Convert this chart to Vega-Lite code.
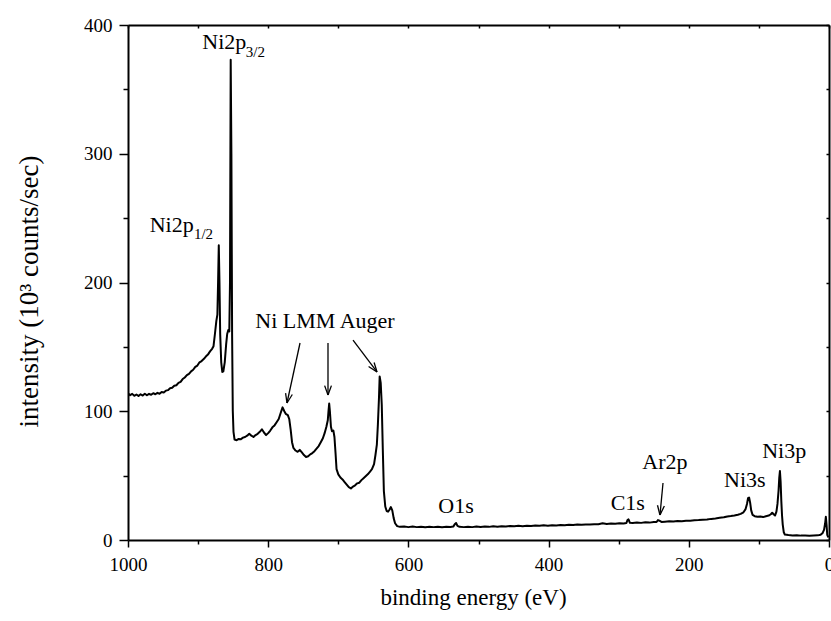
{
  "$schema": "https://vega.github.io/schema/vega-lite/v6.json",
  "width": 701,
  "height": 515,
  "autosize": "none",
  "padding": {"left": 128, "top": 25, "right": 2, "bottom": 81},
  "background": "white",
  "config": {
    "view": {"stroke": null},
    "font": "Liberation Serif",
    "axis": {"grid": false, "domainColor": "black", "domainWidth": 2, "tickColor": "black", "tickWidth": 1.5, "labelColor": "black", "titleColor": "black", "labelFont": "Liberation Serif", "titleFont": "Liberation Serif", "labelFontSize": 19, "titleFontSize": 23, "titleFontWeight": "normal"}
  },
  "datasets": {
    "spectrum": [
      {"E": 1000, "I": 114}, {"E": 997, "I": 112.5}, {"E": 994, "I": 113.5}, {"E": 991, "I": 112}, {"E": 988, "I": 113}, {"E": 985, "I": 111.8},
      {"E": 982, "I": 113.2}, {"E": 979, "I": 112.2}, {"E": 976, "I": 113.6}, {"E": 973, "I": 112.4}, {"E": 970, "I": 113.5}, {"E": 967, "I": 112.8},
      {"E": 964, "I": 114}, {"E": 961, "I": 113.2}, {"E": 958, "I": 114.3}, {"E": 955, "I": 113.6}, {"E": 952, "I": 115}, {"E": 949, "I": 114.6},
      {"E": 946, "I": 116}, {"E": 943, "I": 116.4}, {"E": 940, "I": 117.8}, {"E": 937, "I": 118.2}, {"E": 934, "I": 119.8}, {"E": 931, "I": 120.2},
      {"E": 928, "I": 122}, {"E": 925, "I": 122.8}, {"E": 922, "I": 125}, {"E": 919, "I": 126.2}, {"E": 916, "I": 128}, {"E": 913, "I": 129},
      {"E": 910, "I": 131}, {"E": 907, "I": 132.2}, {"E": 904, "I": 134.5}, {"E": 901, "I": 135.5}, {"E": 898, "I": 138}, {"E": 895, "I": 139},
      {"E": 892, "I": 140.5}, {"E": 889, "I": 142.5}, {"E": 886, "I": 144}, {"E": 883, "I": 146.5}, {"E": 880, "I": 148.5}, {"E": 878, "I": 150.5},
      {"E": 876, "I": 160}, {"E": 874, "I": 170}, {"E": 872.5, "I": 175}, {"E": 871.5, "I": 200}, {"E": 870.5, "I": 229}, {"E": 869.5, "I": 200},
      {"E": 868.5, "I": 160}, {"E": 867, "I": 138}, {"E": 865.5, "I": 130.5}, {"E": 864, "I": 131}, {"E": 862, "I": 138}, {"E": 860, "I": 152},
      {"E": 858.5, "I": 160}, {"E": 857, "I": 163}, {"E": 855.5, "I": 162}, {"E": 854.5, "I": 200}, {"E": 853.5, "I": 373}, {"E": 852.5, "I": 300},
      {"E": 851.5, "I": 160}, {"E": 850.5, "I": 100}, {"E": 849.5, "I": 84}, {"E": 848, "I": 78}, {"E": 845, "I": 77.5}, {"E": 842, "I": 78.5},
      {"E": 839, "I": 78.2}, {"E": 836, "I": 79.5}, {"E": 833, "I": 80}, {"E": 830, "I": 81}, {"E": 827, "I": 82.5}, {"E": 824, "I": 81},
      {"E": 821, "I": 80}, {"E": 818, "I": 81.5}, {"E": 815, "I": 82.5}, {"E": 812, "I": 84}, {"E": 809, "I": 86}, {"E": 806, "I": 83.5},
      {"E": 803, "I": 81.5}, {"E": 800, "I": 83}, {"E": 797, "I": 85}, {"E": 794, "I": 87.5}, {"E": 791, "I": 89}, {"E": 788, "I": 91.5},
      {"E": 785, "I": 94}, {"E": 782, "I": 99}, {"E": 779.5, "I": 103}, {"E": 777, "I": 100}, {"E": 775, "I": 98}, {"E": 772, "I": 97},
      {"E": 770, "I": 94}, {"E": 768, "I": 86}, {"E": 766, "I": 76}, {"E": 764, "I": 71.5}, {"E": 761, "I": 69.5}, {"E": 758, "I": 68.5},
      {"E": 755, "I": 70}, {"E": 752, "I": 68}, {"E": 749, "I": 66}, {"E": 746, "I": 64.5}, {"E": 743, "I": 65}, {"E": 740, "I": 66.5},
      {"E": 737, "I": 67.5}, {"E": 734, "I": 69}, {"E": 731, "I": 71}, {"E": 728, "I": 73}, {"E": 725, "I": 76}, {"E": 722, "I": 79},
      {"E": 719.5, "I": 83}, {"E": 717, "I": 88}, {"E": 715, "I": 93}, {"E": 714, "I": 100}, {"E": 713, "I": 106}, {"E": 712, "I": 100},
      {"E": 710.5, "I": 88}, {"E": 709, "I": 84.5}, {"E": 707, "I": 85}, {"E": 705.5, "I": 80}, {"E": 704, "I": 68}, {"E": 702.5, "I": 55},
      {"E": 700, "I": 51}, {"E": 697, "I": 48.5}, {"E": 694, "I": 47}, {"E": 691, "I": 45}, {"E": 688, "I": 43}, {"E": 685, "I": 41},
      {"E": 682, "I": 40}, {"E": 679, "I": 41.5}, {"E": 676, "I": 42.5}, {"E": 673, "I": 44}, {"E": 670, "I": 44.5}, {"E": 667, "I": 46.5},
      {"E": 664, "I": 48}, {"E": 661, "I": 49.5}, {"E": 658, "I": 51}, {"E": 655, "I": 53}, {"E": 652, "I": 55}, {"E": 649, "I": 59},
      {"E": 647, "I": 66}, {"E": 645, "I": 74}, {"E": 643.5, "I": 90}, {"E": 642, "I": 110}, {"E": 641, "I": 127}, {"E": 639.5, "I": 122},
      {"E": 638, "I": 105}, {"E": 636.5, "I": 70}, {"E": 635, "I": 38}, {"E": 633, "I": 26}, {"E": 631, "I": 22.5}, {"E": 629, "I": 22},
      {"E": 627, "I": 23.5}, {"E": 625, "I": 25.6}, {"E": 623, "I": 23}, {"E": 621, "I": 17}, {"E": 619, "I": 13}, {"E": 616, "I": 10.8},
      {"E": 612, "I": 10.2}, {"E": 606, "I": 10.4}, {"E": 600, "I": 10}, {"E": 594, "I": 10.4}, {"E": 588, "I": 10}, {"E": 582, "I": 10.3},
      {"E": 576, "I": 9.9}, {"E": 570, "I": 10.2}, {"E": 564, "I": 10}, {"E": 558, "I": 10.3}, {"E": 552, "I": 9.9}, {"E": 546, "I": 10.2},
      {"E": 540, "I": 10.1}, {"E": 536, "I": 10.4}, {"E": 533.5, "I": 12.5}, {"E": 532, "I": 13.2}, {"E": 530, "I": 11}, {"E": 527, "I": 10.2},
      {"E": 521, "I": 10}, {"E": 515, "I": 10.3}, {"E": 509, "I": 10}, {"E": 503, "I": 10.4}, {"E": 497, "I": 10.1}, {"E": 491, "I": 10.4},
      {"E": 485, "I": 10.2}, {"E": 479, "I": 10.6}, {"E": 473, "I": 10.3}, {"E": 467, "I": 10.7}, {"E": 461, "I": 10.4}, {"E": 455, "I": 10.8},
      {"E": 449, "I": 10.6}, {"E": 443, "I": 11}, {"E": 437, "I": 10.7}, {"E": 431, "I": 11.1}, {"E": 425, "I": 10.9}, {"E": 419, "I": 11.2},
      {"E": 413, "I": 11}, {"E": 407, "I": 11.4}, {"E": 401, "I": 11.1}, {"E": 395, "I": 11.5}, {"E": 389, "I": 11.3}, {"E": 383, "I": 11.6},
      {"E": 377, "I": 11.4}, {"E": 371, "I": 11.8}, {"E": 365, "I": 11.6}, {"E": 359, "I": 12}, {"E": 353, "I": 11.8}, {"E": 347, "I": 12.1},
      {"E": 341, "I": 12}, {"E": 335, "I": 12.3}, {"E": 329, "I": 12.2}, {"E": 323, "I": 13}, {"E": 317, "I": 12.5}, {"E": 311, "I": 12.8},
      {"E": 305, "I": 12.6}, {"E": 299, "I": 13}, {"E": 293, "I": 12.8}, {"E": 289, "I": 13.2}, {"E": 287.5, "I": 15.5}, {"E": 286, "I": 16},
      {"E": 284, "I": 13.3}, {"E": 280, "I": 13.2}, {"E": 274, "I": 13.5}, {"E": 268, "I": 13.3}, {"E": 262, "I": 13.7}, {"E": 256, "I": 13.5},
      {"E": 250, "I": 13.9}, {"E": 246, "I": 14}, {"E": 244, "I": 15.5}, {"E": 242, "I": 15}, {"E": 239, "I": 14}, {"E": 234, "I": 14.2},
      {"E": 228, "I": 14.5}, {"E": 222, "I": 14.3}, {"E": 216, "I": 14.8}, {"E": 210, "I": 14.6}, {"E": 204, "I": 15}, {"E": 198, "I": 14.9},
      {"E": 192, "I": 15.3}, {"E": 186, "I": 15.5}, {"E": 180, "I": 15.8}, {"E": 174, "I": 15.9}, {"E": 168, "I": 16.4}, {"E": 162, "I": 16.7},
      {"E": 156, "I": 17.2}, {"E": 150, "I": 17.6}, {"E": 145, "I": 18.3}, {"E": 140, "I": 18.6}, {"E": 135, "I": 19}, {"E": 130, "I": 19.6},
      {"E": 126, "I": 20.3}, {"E": 122, "I": 21.5}, {"E": 119, "I": 24}, {"E": 117, "I": 28}, {"E": 115.5, "I": 32.5}, {"E": 114, "I": 33},
      {"E": 112.5, "I": 29}, {"E": 111, "I": 23}, {"E": 109, "I": 19.5}, {"E": 106, "I": 18.5}, {"E": 102, "I": 18}, {"E": 98, "I": 18.3},
      {"E": 94, "I": 17.8}, {"E": 90, "I": 18.5}, {"E": 86, "I": 19}, {"E": 83, "I": 20}, {"E": 81, "I": 21.2}, {"E": 79, "I": 20},
      {"E": 77, "I": 19}, {"E": 75, "I": 22}, {"E": 73.5, "I": 28}, {"E": 72, "I": 38}, {"E": 71, "I": 48}, {"E": 70, "I": 53.5},
      {"E": 69, "I": 45}, {"E": 68, "I": 30}, {"E": 67, "I": 19}, {"E": 66, "I": 12}, {"E": 64.5, "I": 6}, {"E": 63, "I": 4.2},
      {"E": 58, "I": 3.8}, {"E": 52, "I": 3.5}, {"E": 46, "I": 3.7}, {"E": 40, "I": 3.4}, {"E": 34, "I": 3.5}, {"E": 28, "I": 3.3},
      {"E": 22, "I": 3.5}, {"E": 16, "I": 3.6}, {"E": 12, "I": 4}, {"E": 9, "I": 5.5}, {"E": 7, "I": 8}, {"E": 5.5, "I": 13},
      {"E": 4.5, "I": 18}, {"E": 3.5, "I": 12}, {"E": 2.5, "I": 4}, {"E": 1, "I": 2}
    ],
    "labels": [
      {"text": "Ni2p", "E": 894, "I": 381, "kind": "left"},
      {"text": "3/2", "E": 832, "I": 375, "kind": "sub"},
      {"text": "Ni2p", "E": 969, "I": 239, "kind": "left"},
      {"text": "1/2", "E": 906, "I": 234, "kind": "sub"},
      {"text": "Ni LMM Auger", "E": 719, "I": 165, "kind": "center"},
      {"text": "O1s", "E": 532, "I": 21, "kind": "center"},
      {"text": "C1s", "E": 287, "I": 23.3, "kind": "center"},
      {"text": "Ar2p", "E": 234, "I": 55.1, "kind": "center"},
      {"text": "Ni3s", "E": 120, "I": 41.2, "kind": "center"},
      {"text": "Ni3p", "E": 64, "I": 63.7, "kind": "center"}
    ],
    "arrows": [
      {"E": 754.6, "I": 153.0, "E2": 773.2, "I2": 106.4},
      {"E": 765.6, "I": 113.0, "E2": 773.2, "I2": 106.4},
      {"E": 775.2, "I": 114.1, "E2": 773.2, "I2": 106.4},
      {"E": 714.7, "I": 153.0, "E2": 714.7, "I2": 112.6},
      {"E": 709.8, "I": 119.9, "E2": 714.7, "I2": 112.6},
      {"E": 719.5, "I": 119.9, "E2": 714.7, "I2": 112.6},
      {"E": 679.0, "I": 155.3, "E2": 644.8, "I2": 130.5},
      {"E": 648.9, "I": 137.9, "E2": 644.8, "I2": 130.5},
      {"E": 656.8, "I": 134.8, "E2": 644.8, "I2": 130.5},
      {"E": 236.8, "I": 44.3, "E2": 241.1, "I2": 19.4},
      {"E": 234.9, "I": 26.4, "E2": 241.1, "I2": 19.4},
      {"E": 244.7, "I": 27.0, "E2": 241.1, "I2": 19.4}
    ]
  },
  "resolve": {"axis": {"x": "independent", "y": "independent"}},
  "layer": [
    {
      "data": {"name": "spectrum"},
      "mark": {"type": "line", "color": "black", "strokeWidth": 2, "strokeJoin": "round", "clip": true},
      "encoding": {
        "x": {
          "field": "E", "type": "quantitative",
          "scale": {"domain": [0, 1000], "reverse": true, "nice": false, "zero": false},
          "axis": {
            "orient": "bottom", "title": "binding energy (eV)", "format": "d",
            "values": [0, 100, 200, 300, 400, 500, 600, 700, 800, 900, 1000],
            "labelExpr": "datum.value % 200 === 0 ? datum.label : ''",
            "tickSize": {"condition": {"test": "datum.value % 200 === 0", "value": 7}, "value": 4},
            "labelPadding": 8, "titlePadding": 12, "titleX": 345, "labelFlush": false, "labelOverlap": false
          }
        },
        "y": {
          "field": "I", "type": "quantitative",
          "scale": {"domain": [0, 400], "nice": false},
          "axis": {
            "orient": "left", "title": "intensity (10³ counts/sec)", "format": "d",
            "values": [0, 50, 100, 150, 200, 250, 300, 350, 400],
            "labelExpr": "datum.value % 100 === 0 ? datum.label : ''",
            "tickSize": {"condition": {"test": "datum.value % 100 === 0", "value": 9}, "value": 5},
            "labelPadding": 7, "titlePadding": 40, "titleFontSize": 27, "titleY": 266, "labelFlush": false, "labelOverlap": false
          }
        }
      }
    },
    {
      "data": {"name": "arrows"},
      "mark": {"type": "rule", "color": "black", "strokeWidth": 1.3},
      "encoding": {
        "x": {
          "field": "E", "type": "quantitative",
          "axis": {"orient": "top", "title": null, "labels": false, "values": [0, 100, 200, 300, 400, 500, 600, 700, 800, 900, 1000], "tickSize": -3}
        },
        "y": {
          "field": "I", "type": "quantitative",
          "axis": {"orient": "right", "title": null, "labels": false, "values": [0, 50, 100, 150, 200, 250, 300, 350, 400], "tickSize": -3}
        },
        "x2": {"field": "E2"},
        "y2": {"field": "I2"}
      }
    },
    {
      "data": {"name": "labels"},
      "transform": [{"filter": "datum.kind === 'center'"}],
      "mark": {"type": "text", "align": "center", "baseline": "alphabetic", "fontSize": 22, "font": "Liberation Serif", "color": "black"},
      "encoding": {
        "x": {"field": "E", "type": "quantitative", "axis": null},
        "y": {"field": "I", "type": "quantitative", "axis": null},
        "text": {"field": "text"}
      }
    },
    {
      "data": {"name": "labels"},
      "transform": [{"filter": "datum.kind === 'left'"}],
      "mark": {"type": "text", "align": "left", "baseline": "alphabetic", "fontSize": 22, "font": "Liberation Serif", "color": "black"},
      "encoding": {
        "x": {"field": "E", "type": "quantitative", "axis": null},
        "y": {"field": "I", "type": "quantitative", "axis": null},
        "text": {"field": "text"}
      }
    },
    {
      "data": {"name": "labels"},
      "transform": [{"filter": "datum.kind === 'sub'"}],
      "mark": {"type": "text", "align": "left", "baseline": "alphabetic", "fontSize": 15, "font": "Liberation Serif", "color": "black"},
      "encoding": {
        "x": {"field": "E", "type": "quantitative", "axis": null},
        "y": {"field": "I", "type": "quantitative", "axis": null},
        "text": {"field": "text"}
      }
    }
  ]
}
